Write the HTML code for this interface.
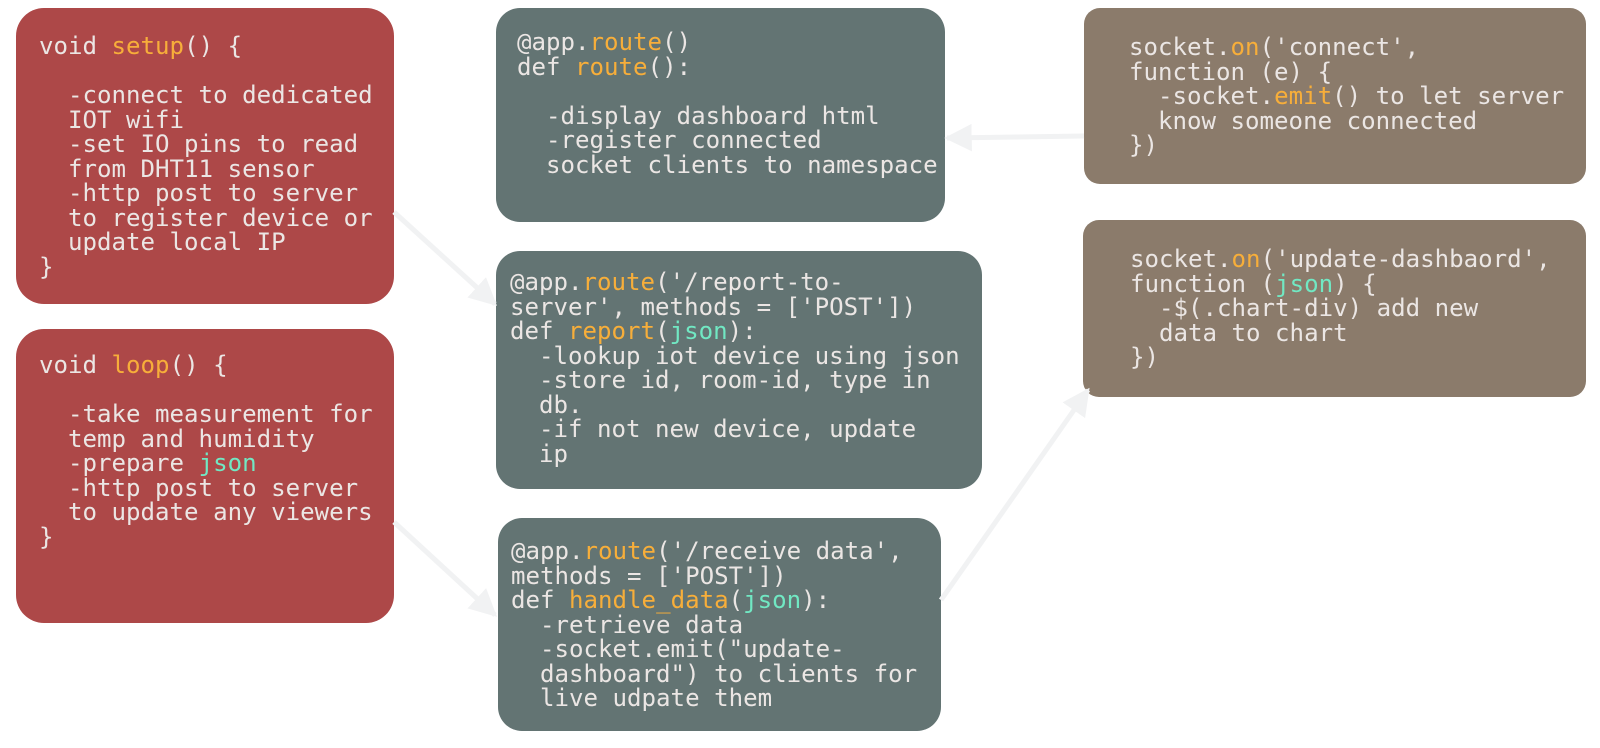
<!DOCTYPE html>
<html><head><meta charset="utf-8"><style>
html,body{margin:0;padding:0;background:#fff;width:1600px;height:748px;overflow:hidden;position:relative}
.b{position:absolute;border-radius:28px;box-sizing:border-box}
.r{background:#ad4848}.g{background:#637473;border-radius:24px}.n{background:#8b7b6b;border-radius:16px}
.t{position:absolute;margin:0;font-family:"DejaVu Sans Mono","Liberation Mono",monospace;font-size:24.1px;line-height:24.5px;color:#ebe6e4;white-space:pre}
.o{color:#f7ae3a}.j{color:#71e8c3}
svg{position:absolute;left:0;top:0}
</style></head><body>
<div class="b r" style="left:16px;top:8px;width:378px;height:296px"></div>
<div class="b r" style="left:16px;top:329px;width:378px;height:294px"></div>
<div class="b g" style="left:496px;top:8px;width:449px;height:214px"></div>
<div class="b g" style="left:496px;top:251px;width:486px;height:238px"></div>
<div class="b g" style="left:498px;top:518px;width:443px;height:213px"></div>
<div class="b n" style="left:1084px;top:8px;width:502px;height:176px"></div>
<div class="b n" style="left:1083px;top:220px;width:503px;height:177px"></div>
<pre class="t" style="left:39px;top:34px">void <span class="o">setup</span>() {

  -connect to dedicated
  IOT wifi
  -set IO pins to read
  from DHT11 sensor
  -http post to server
  to register device or
  update local IP
}</pre>
<pre class="t" style="left:39px;top:353px">void <span class="o">loop</span>() {

  -take measurement for
  temp and humidity
  -prepare <span class="j">json</span>
  -http post to server
  to update any viewers
}</pre>
<pre class="t" style="left:517px;top:30px">@app.<span class="o">route</span>()
def <span class="o">route</span>():

  -display dashboard html
  -register connected
  socket clients to namespace</pre>
<pre class="t" style="left:510px;top:270px">@app.<span class="o">route</span>('/report-to-
server', methods = ['POST'])
def <span class="o">report</span>(<span class="j">json</span>):
  -lookup iot device using json
  -store id, room-id, type in
  db.
  -if not new device, update
  ip</pre>
<pre class="t" style="left:511px;top:539px">@app.<span class="o">route</span>('/receive data',
methods = ['POST'])
def <span class="o">handle_data</span>(<span class="j">json</span>):
  -retrieve data
  -socket.emit("update-
  dashboard") to clients for
  live udpate them</pre>
<pre class="t" style="left:1129px;top:35px">socket.<span class="o">on</span>('connect',
function (e) {
  -socket.<span class="o">emit</span>() to let server
  know someone connected
})</pre>
<pre class="t" style="left:1130px;top:247px">socket.<span class="o">on</span>('update-dashbaord',
function (<span class="j">json</span>) {
  -$(.chart-div) add new
  data to chart
})</pre>
<svg width="1600" height="748">
<defs><marker id="a" viewBox="0 0 10 10" refX="9" refY="5" markerWidth="5.5" markerHeight="7" markerUnits="strokeWidth" orient="auto"><path d="M0,0 L10,5 L0,10 z" fill="#f1f2f3"/></marker></defs>
<g stroke="#f1f2f3" stroke-width="5" fill="none">
<line x1="394" y1="212" x2="495" y2="304" marker-end="url(#a)"/>
<line x1="394" y1="522" x2="495" y2="615" marker-end="url(#a)"/>
<line x1="941" y1="600" x2="1088" y2="390" marker-end="url(#a)"/>
<line x1="1084" y1="136" x2="947" y2="138" marker-end="url(#a)"/>
</g></svg>
</body></html>
